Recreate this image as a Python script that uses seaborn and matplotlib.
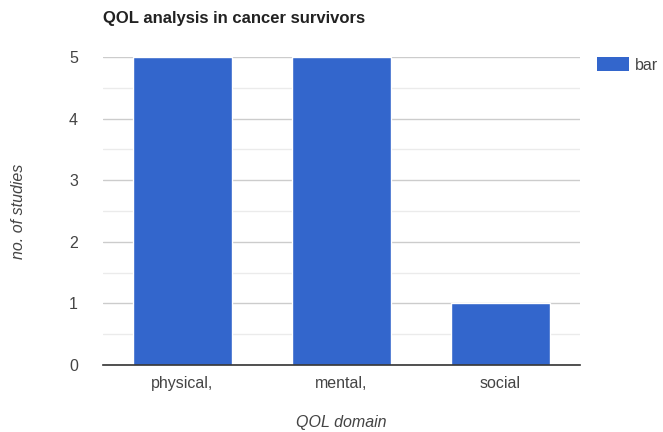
import matplotlib
matplotlib.use("Agg")
import matplotlib.pyplot as plt
import seaborn as sns
import pandas as pd
from matplotlib.patches import Patch

domains = ["physical,", "mental,", "social"]
studies = [5, 5, 1]
series_name = "bar"
yticks = [0, 1, 2, 3, 4, 5]

sns.set_theme(style="white")
plt.rcParams["font.family"] = ["Liberation Sans", "DejaVu Sans"]

df = pd.DataFrame({"domain": domains, "studies": studies})

fig = plt.figure(figsize=(6.63, 4.32), dpi=100)
ax = fig.add_axes([0.1554, 0.1551, 0.7194, 0.7129])

sns.barplot(data=df, x="domain", y="studies", color="#3366cc", saturation=1,
            width=0.617, ax=ax, zorder=3)

ax.set_ylim(0, 5)
ax.set_xlim(-0.5, len(domains) - 0.5)
ax.set_yticks(yticks)
ax.set_yticks([y + 0.5 for y in yticks[:-1]], minor=True)
ax.grid(axis="y", which="major", color="#cccccc", linewidth=1, zorder=0)
ax.grid(axis="y", which="minor", color="#ebebeb", linewidth=1, zorder=0)
ax.grid(axis="x", visible=False)
for side in ["top", "right", "left"]:
    ax.spines[side].set_visible(False)
ax.spines["bottom"].set_color("#333333")
ax.spines["bottom"].set_linewidth(1.2)
ax.spines["bottom"].set_zorder(4)

ax.tick_params(axis="both", which="both", length=0, labelsize=11.5, colors="#444444")
ax.tick_params(axis="y", pad=18)
ax.tick_params(axis="x", pad=8)

ax.set_xlabel("QOL domain", fontstyle="italic", fontsize=11.5, color="#444444", labelpad=17)
ax.set_ylabel("no. of studies", fontstyle="italic", fontsize=11.5, color="#444444", labelpad=31)

fig.text(0.1554, 0.958, "QOL analysis in cancer survivors", fontsize=12,
         fontweight="bold", color="#222222", ha="left", va="center")

handle = Patch(facecolor="#3366cc", edgecolor="none")
fig.legend([handle], [series_name], loc="upper left", bbox_to_anchor=(0.9, 0.867),
           frameon=False, fontsize=11.5, handlelength=2.0, handleheight=0.95,
           handletextpad=0.4, borderpad=0, borderaxespad=0, labelcolor="#444444")

fig.savefig("out.png", dpi=100)
